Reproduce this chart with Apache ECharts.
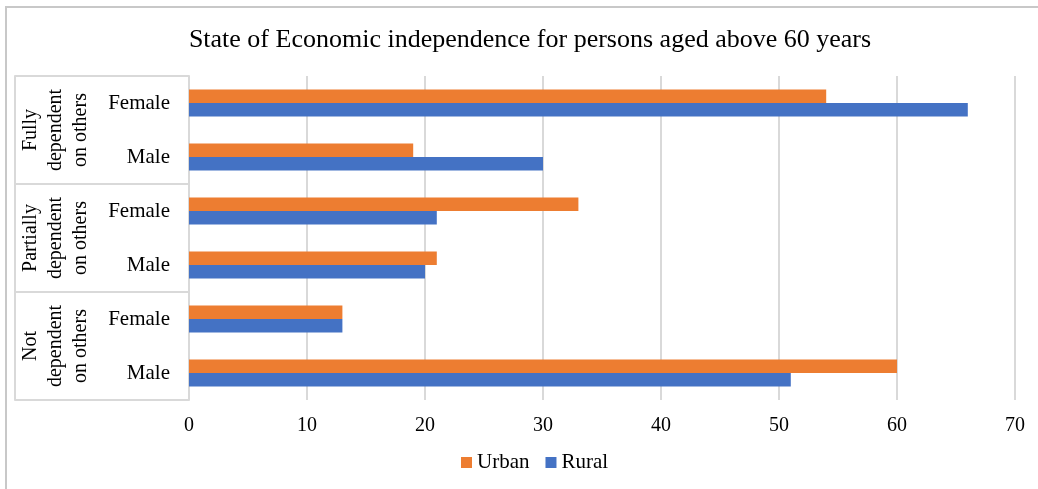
<!DOCTYPE html>
<html>
<head>
<meta charset="utf-8">
<script src="https://cdn.jsdelivr.net/npm/echarts@6/dist/echarts.min.js"></script>
<style>
  html, body { margin: 0; padding: 0; background: #fff; }
  #chart { width: 1038px; height: 489px; }
</style>
</head>
<body>
<div id="chart"></div>
<script>
// 数据
const groups = ['Not\ndependent\non others', 'Partially\ndependent\non others', 'Fully\ndependent\non others']
const genders = ['Male', 'Female', 'Male', 'Female', 'Male', 'Female']
const urban = [60, 13, 21, 33, 19, 54]
const rural = [51, 13, 20, 21, 30, 66]
const xTicks = [0, 10, 20, 30, 40, 50, 60, 70]

const lineColor = '#d9d9d9'
const font = 'Liberation Serif, Times New Roman, serif'

const myChart = echarts.init(document.getElementById('chart'))

const options = {
  animation: false,
  title: {
    text: 'State of Economic independence for persons aged above 60 years',
    left: 525,
    textAlign: 'center',
    top: 22,
    textStyle: { fontFamily: font, fontSize: 26, fontWeight: 'normal', color: '#000' }
  },
  legend: {
    data: ['Urban', 'Rural'],
    bottom: 11,
    left: 456,
    itemWidth: 11,
    itemHeight: 11,
    itemGap: 16,
    icon: 'rect',
    textStyle: { fontFamily: font, fontSize: 21, color: '#000' }
  },
  grid: { left: 189, right: 23, top: 76, bottom: 89 },
  xAxis: {
    type: 'value',
    min: 0,
    max: xTicks[xTicks.length - 1],
    interval: 10,
    axisLine: { show: false },
    axisTick: { show: false },
    axisLabel: { fontFamily: font, fontSize: 20, color: '#000', margin: 16 },
    splitLine: { lineStyle: { color: lineColor, width: 2 } }
  },
  yAxis: [
    {
      // 内层标签 Female / Male
      type: 'category',
      data: genders,
      axisLine: { lineStyle: { color: lineColor, width: 2 } },
      axisTick: { show: false },
      axisLabel: { fontFamily: font, fontSize: 21, color: '#000', margin: 19 }
    },
    {
      // 外层分组
      type: 'category',
      data: groups,
      position: 'left',
      offset: 0,
      axisLine: { show: false },
      axisTick: { show: true, length: 174, lineStyle: { color: lineColor, width: 2 } },
      axisLabel: {
        rotate: 90,
        margin: 96,
        align: 'center',
        fontFamily: font,
        fontSize: 20,
        lineHeight: 25,
        color: '#000'
      }
    },
    {
      // 左侧竖线
      type: 'category',
      data: groups,
      position: 'left',
      offset: 174,
      axisLine: { show: true, lineStyle: { color: lineColor, width: 2 } },
      axisTick: { show: false },
      axisLabel: { show: false }
    }
  ],
  series: [
    {
      name: 'Urban',
      type: 'bar',
      data: urban,
      barGap: '0%',
      barCategoryGap: '50%',
      itemStyle: { color: '#ed7d31' }
    },
    {
      name: 'Rural',
      type: 'bar',
      data: rural,
      itemStyle: { color: '#4472c4' }
    }
  ],
  graphic: [
    {
      type: 'rect',
      silent: true,
      shape: { x: 6, y: 7, width: 1060, height: 500 },
      style: { fill: 'none', stroke: '#c8c8c8', lineWidth: 2 }
    }
  ]
}

myChart.setOption(options)
</script>
</body>
</html>
